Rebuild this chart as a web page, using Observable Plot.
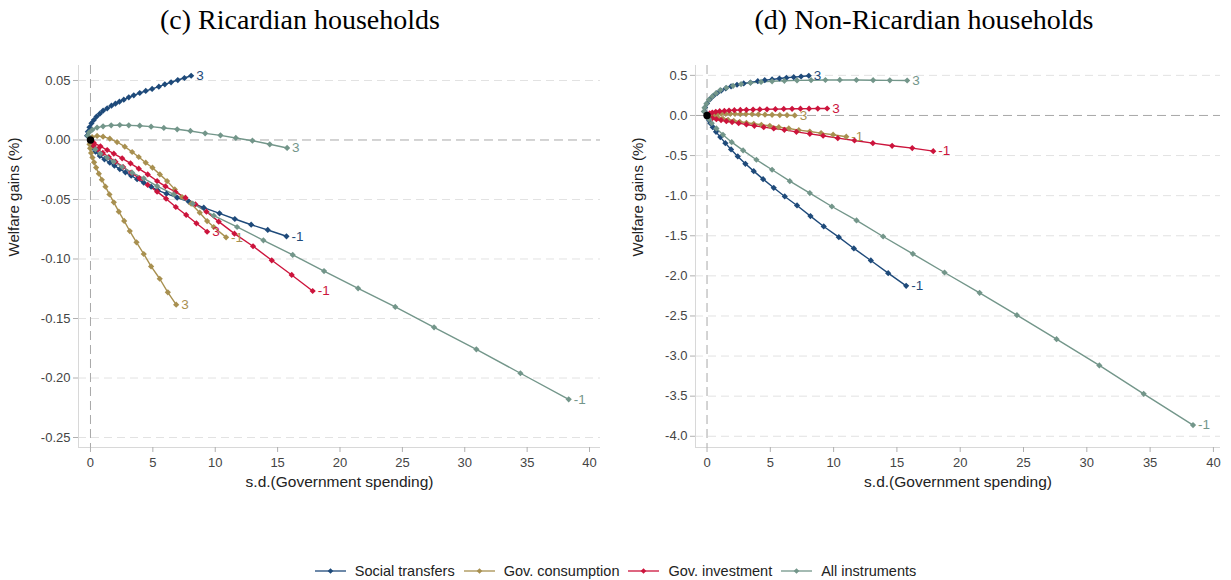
<!DOCTYPE html>
<html><head><meta charset="utf-8">
<script src="https://cdn.jsdelivr.net/npm/d3@7"></script>
<script src="https://cdn.jsdelivr.net/npm/@observablehq/plot@0.6"></script>
<style>
body{margin:0;background:#fff;}
#wrap{position:relative;width:1231px;height:580px;overflow:hidden;font-family:"Liberation Sans",Arial,sans-serif;background:#fff;}
.panel{position:absolute;top:0;}
.ptitle{position:absolute;top:6px;font-family:"Liberation Serif","Times New Roman",serif;font-size:28px;line-height:28px;color:#000;white-space:nowrap;transform:translateX(-50%);z-index:2;}
#legend{position:absolute;left:0;width:1231px;top:561px;height:20px;display:flex;justify-content:center;align-items:center;font-size:14.5px;line-height:20px;color:#222;}
#legend .item{display:flex;align-items:center;margin:0 4.5px;}
#legend svg{margin-right:9px;}
</style>
</head><body>
<div id="wrap">
  <div id="pc" class="panel" style="left:0px"></div>
  <div id="pd" class="panel" style="left:615px"></div>
  <div class="ptitle" style="left:300px">(c) Ricardian households</div>
  <div class="ptitle" style="left:924px">(d) Non-Ricardian households</div>
  <div id="legend"></div>
</div>
<script>
// ---- categories / labels ----
const instruments = ["Social transfers", "Gov. consumption", "Gov. investment", "All instruments"];
const colors = ["#1e4a7a", "#a89050", "#cc143c", "#73968a"];
const xTicks = [0, 5, 10, 15, 20, 25, 30, 35, 40];
const yTicksC = [0.05, 0, -0.05, -0.10, -0.15, -0.20, -0.25];
const yTicksD = [0.5, 0, -0.5, -1.0, -1.5, -2.0, -2.5, -3.0, -3.5, -4.0];
const xTitle = "s.d.(Government spending)";
const yTitle = "Welfare gains (%)";

// ---- Panel (c) Ricardian households: [s.d., welfare gain] ----
const cSocial3 = [[0,0],[-0.27,0.0036],[-0.21,0.0070],[-0.08,0.0107],[0.08,0.0140],[0.27,0.0168],[0.48,0.0196],[0.75,0.0221],[1.01,0.0246],[1.34,0.0266],[1.68,0.0288],[2.0,0.0305],[2.32,0.0322],[2.67,0.0339],[3.07,0.0359],[3.47,0.0375],[3.95,0.0395],[4.43,0.0412],[4.94,0.0429],[5.48,0.0448],[5.96,0.0468],[6.46,0.0485],[7.0,0.0504],[7.53,0.0521],[8.07,0.0540]];
const cSocialM1 = [[0,0],[0.16,-0.0065],[0.40,-0.0098],[0.75,-0.0134],[1.12,-0.0162],[1.55,-0.0191],[1.92,-0.0216],[2.35,-0.0244],[2.80,-0.0272],[3.26,-0.0300],[3.74,-0.0330],[4.27,-0.0359],[4.86,-0.0392],[5.39,-0.0423],[6.09,-0.0451],[6.95,-0.0485],[7.88,-0.0518],[9.08,-0.0569],[10.34,-0.0616],[11.57,-0.0664],[12.88,-0.0712],[14.21,-0.0756],[15.71,-0.0809]];
const cConsump3 = [[0,0],[-0.08,-0.0036],[-0.03,-0.007],[0.05,-0.0109],[0.16,-0.0148],[0.29,-0.0188],[0.45,-0.0232],[0.67,-0.0283],[0.91,-0.0334],[1.20,-0.0392],[1.52,-0.0457],[1.87,-0.0524],[2.27,-0.0602],[2.70,-0.068],[3.15,-0.0765],[3.69,-0.086],[4.27,-0.0958],[4.86,-0.1062],[5.55,-0.1166],[6.2,-0.128],[6.87,-0.1384]];
const cConsumpM1 = [[0,0],[0.13,0.0025],[0.53,0.0034],[1.01,0.0028],[1.55,0.0011],[2.13,-0.0017],[2.75,-0.0056],[3.34,-0.0101],[3.87,-0.0143],[4.43,-0.0191],[4.97,-0.0233],[5.56,-0.0289],[6.14,-0.0345],[6.76,-0.0415],[7.34,-0.0479],[8.07,-0.0535],[8.76,-0.0611],[9.35,-0.0681],[9.88,-0.0731],[10.87,-0.0818]];
const cInvest3 = [[0,0],[0.27,-0.005],[0.59,-0.0078],[0.99,-0.0109],[1.47,-0.0143],[2.0,-0.0182],[2.62,-0.0227],[3.26,-0.0275],[3.93,-0.0322],[4.59,-0.0378],[5.34,-0.0434],[6.06,-0.0493],[6.84,-0.0563],[7.67,-0.063],[8.49,-0.070],[9.35,-0.0771]];
const cInvestM1 = [[0,0],[0.27,-0.0025],[0.80,-0.0053],[1.34,-0.0084],[1.87,-0.0115],[2.54,-0.0154],[3.21,-0.0196],[3.87,-0.0241],[4.59,-0.0289],[5.34,-0.0345],[6.01,-0.0389],[6.81,-0.0437],[7.61,-0.0485],[8.41,-0.054],[9.29,-0.0602],[10.28,-0.0686],[11.54,-0.0787],[13.03,-0.0893],[14.53,-0.1011],[16.13,-0.1134],[17.81,-0.1269]];
const cAll3 = [[0,0],[-0.21,0.0036],[-0.11,0.0064],[0.16,0.0087],[0.53,0.0104],[1.01,0.0115],[1.66,0.0123],[2.35,0.0126],[3.07,0.0123],[3.95,0.0120],[4.86,0.0112],[5.88,0.0101],[6.95,0.0090],[8.01,0.0076],[9.19,0.0056],[10.42,0.0039],[11.65,0.0017],[12.98,-0.0006],[14.37,-0.0036],[15.76,-0.0067]];
const cAllM1 = [[0,0],[0.40,-0.0078],[0.80,-0.0115],[1.34,-0.0149],[1.87,-0.0182],[2.54,-0.0227],[3.34,-0.0275],[4.27,-0.0322],[5.34,-0.0387],[6.68,-0.0457],[8.2,-0.0535],[9.88,-0.0636],[11.75,-0.0731],[13.86,-0.0843],[16.21,-0.0966],[18.72,-0.1101],[21.45,-0.1246],[24.43,-0.1403],[27.54,-0.1574],[30.93,-0.1759],[34.46,-0.196],[38.33,-0.2179]];

// ---- Panel (d) Non-Ricardian households ----
const dSocial3 = [[0,0],[-0.2,0.05],[-0.15,0.10],[0.0,0.15],[0.22,0.20],[0.5,0.243],[0.79,0.278],[1.11,0.308],[1.48,0.337],[1.90,0.362],[2.37,0.383],[2.90,0.399],[3.43,0.411],[4.01,0.428],[4.56,0.440],[5.14,0.449],[5.72,0.461],[6.27,0.470],[6.85,0.478],[7.43,0.486],[8.04,0.495]];
const dSocialM1 = [[0,0],[0.13,-0.054],[0.26,-0.096],[0.45,-0.146],[0.71,-0.204],[1.05,-0.270],[1.45,-0.345],[1.90,-0.424],[2.43,-0.511],[3.03,-0.603],[3.69,-0.694],[4.43,-0.794],[5.27,-0.902],[6.14,-1.010],[7.11,-1.122],[8.17,-1.255],[9.22,-1.384],[10.41,-1.517],[11.6,-1.658],[12.94,-1.808],[14.31,-1.966],[15.73,-2.124]];
const dConsump3 = [[0,0],[0.34,0.012],[0.58,0.016],[0.85,0.018],[1.13,0.020],[1.48,0.021],[1.84,0.021],[2.21,0.019],[2.63,0.018],[3.08,0.017],[3.56,0.015],[4.06,0.013],[4.58,0.010],[5.14,0.008],[5.75,0.005],[6.32,0.003],[6.93,0.0]];
const dConsumpM1 = [[0,0],[0.32,-0.017],[0.58,-0.025],[0.90,-0.033],[1.26,-0.041],[1.66,-0.054],[2.11,-0.066],[2.58,-0.079],[3.11,-0.091],[3.69,-0.104],[4.29,-0.116],[4.96,-0.129],[5.67,-0.146],[6.46,-0.162],[7.25,-0.183],[8.12,-0.2],[9.01,-0.220],[9.96,-0.240],[11.0,-0.265]];
const dInvest3 = [[0,0],[0.21,0.025],[0.42,0.037],[0.69,0.046],[1.0,0.054],[1.37,0.058],[1.74,0.062],[2.16,0.066],[2.63,0.069],[3.11,0.071],[3.64,0.073],[4.17,0.075],[4.74,0.077],[5.40,0.079],[6.06,0.081],[6.72,0.083],[7.38,0.084],[8.06,0.085],[8.75,0.086],[9.49,0.087]];
const dInvestM1 = [[0,0],[0.42,-0.033],[0.74,-0.046],[1.11,-0.058],[1.53,-0.071],[1.98,-0.083],[2.5,-0.096],[3.11,-0.112],[3.74,-0.129],[4.48,-0.146],[5.27,-0.162],[6.11,-0.179],[7.06,-0.204],[8.12,-0.229],[9.17,-0.253],[10.33,-0.283],[11.65,-0.312],[13.1,-0.345],[14.62,-0.378],[16.21,-0.407],[17.87,-0.445]];
const dAll3 = [[0,0],[-0.25,0.05],[-0.2,0.096],[-0.05,0.145],[0.15,0.195],[0.42,0.237],[0.71,0.278],[1.05,0.316],[1.53,0.345],[2.06,0.370],[2.69,0.391],[3.43,0.407],[4.27,0.418],[5.14,0.426],[6.11,0.432],[7.11,0.437],[8.22,0.440],[9.35,0.442],[10.49,0.443],[11.80,0.442],[13.12,0.440],[14.44,0.438],[15.81,0.436]];
const dAllM1 = [[0,0],[0.16,-0.046],[0.37,-0.096],[0.74,-0.162],[1.26,-0.241],[1.95,-0.333],[2.85,-0.436],[3.90,-0.552],[5.14,-0.677],[6.54,-0.819],[8.12,-0.968],[9.86,-1.135],[11.81,-1.309],[13.91,-1.509],[16.26,-1.725],[18.76,-1.958],[21.53,-2.211],[24.48,-2.490],[27.61,-2.789],[30.99,-3.117],[34.49,-3.471],[38.39,-3.861]];

const curvesC = [
  {inst:0, label:"3", pts:cSocial3}, {inst:0, label:"-1", pts:cSocialM1},
  {inst:1, label:"3", pts:cConsump3}, {inst:1, label:"-1", pts:cConsumpM1},
  {inst:2, label:"3", pts:cInvest3}, {inst:2, label:"-1", pts:cInvestM1},
  {inst:3, label:"3", pts:cAll3}, {inst:3, label:"-1", pts:cAllM1}
];
const curvesD = [
  {inst:0, label:"3", pts:dSocial3}, {inst:0, label:"-1", pts:dSocialM1},
  {inst:1, label:"3", pts:dConsump3}, {inst:1, label:"-1", pts:dConsumpM1},
  {inst:2, label:"3", pts:dInvest3}, {inst:2, label:"-1", pts:dInvestM1},
  {inst:3, label:"3", pts:dAll3}, {inst:3, label:"-1", pts:dAllM1}
];

function panel({curves, xDomain, yDomain, yTicks, yFmt, width, marginLeft, marginRight, yTitleDx}) {
  const data = curves.flatMap((c, i) => c.pts.map(([x, y]) => ({x, y, id: i, inst: instruments[c.inst]})));
  const ends = curves.map(c => ({x: c.pts[c.pts.length-1][0], y: c.pts[c.pts.length-1][1], label: c.label, inst: instruments[c.inst]}));
  return Plot.plot({
    width, height: 500,
    marginTop: 65, marginBottom: 53, marginLeft, marginRight,
    style: {background: "transparent", fontFamily: "'Liberation Sans', Arial, sans-serif", fontSize: "13px", overflow: "visible"},
    x: {domain: xDomain},
    y: {domain: yDomain},
    color: {domain: instruments, range: colors},
    marks: [
      Plot.ruleY(yTicks.filter(d => d !== 0), {stroke: "#e2e2e2", strokeDasharray: "8,5"}),
      Plot.ruleY([0], {stroke: "#a8a8a8", strokeDasharray: "9,5"}),
      Plot.ruleX([0], {stroke: "#a8a8a8", strokeDasharray: "9,5"}),
      Plot.ruleX([xDomain[0]], {stroke: "#d8d8d8"}),
      Plot.ruleY([yDomain[0]], {stroke: "#d8d8d8"}),
      Plot.axisX({ticks: xTicks, tickSize: 5, tickPadding: 5, stroke: "#b0b0b0", color: "#444", label: null, tickFormat: d => String(d)}),
      Plot.axisY({ticks: yTicks, tickSize: 5, tickPadding: 3, stroke: "#b0b0b0", color: "#444", label: null, tickFormat: yFmt}),
      Plot.line(data, {x: "x", y: "y", z: "id", stroke: "inst", strokeWidth: 1.4}),
      Plot.dot(data, {x: "x", y: "y", fill: "inst", symbol: "diamond2", r: 2.8}),
      Plot.text(ends, {x: "x", y: "y", text: "label", fill: "inst", dx: 5, textAnchor: "start", fontSize: 13.5}),
      Plot.dot([[0, 0]], {fill: "black", r: 3.7}),
      Plot.text([xTitle], {text: d => d, frameAnchor: "bottom", dy: 39, fontSize: 15.5, fill: "#222"}),
      Plot.text([yTitle], {text: d => d, frameAnchor: "left", rotate: -90, dx: yTitleDx, fontSize: 15, fill: "#222"})
    ]
  });
}

document.getElementById("pc").append(panel({
  curves: curvesC, xDomain: [-0.96, 40.88], yDomain: [-0.2584, 0.0626],
  yTicks: yTicksC, yFmt: d => d.toFixed(2), width: 615, marginLeft: 78, marginRight: 15, yTitleDx: -64
}));
document.getElementById("pd").append(panel({
  curves: curvesD, xDomain: [-0.91, 40.56], yDomain: [-4.14, 0.623],
  yTicks: yTicksD, yFmt: d => d.toFixed(1), width: 616, marginLeft: 80, marginRight: 11, yTitleDx: -57
}));

// legend
const leg = document.getElementById("legend");
instruments.forEach((name, i) => {
  const item = document.createElement("div");
  item.className = "item";
  item.innerHTML = `<svg width="31" height="10"><line x1="0" x2="31" y1="5" y2="5" stroke="${colors[i]}" stroke-width="1.3"/><path d="M15.5,2.2L18.3,5L15.5,7.8L12.7,5Z" fill="${colors[i]}"/></svg><span>${name}</span>`;
  leg.append(item);
});
</script>
</body></html>
